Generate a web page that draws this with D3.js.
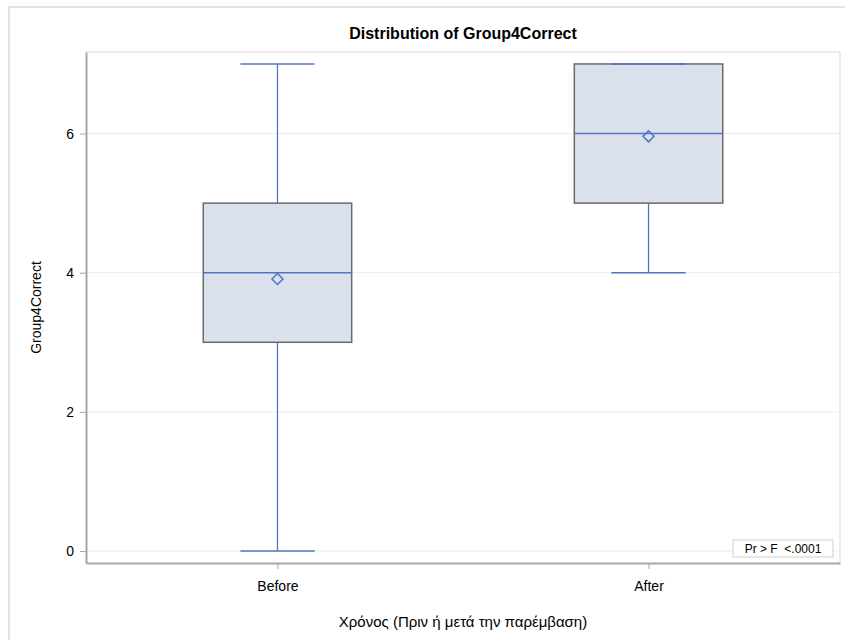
<!DOCTYPE html>
<html>
<head>
<meta charset="utf-8">
<script src="https://cdn.jsdelivr.net/npm/d3@7"></script>
<style>
  body { margin: 0; background: #fff; }
  #chart { width: 845px; height: 640px; }
  text { font-family: "Liberation Sans", Arial, sans-serif; fill: #000; }
</style>
</head>
<body>
<div id="chart"></div>
<script>
// values
const groups = ["Before", "After"];
const minVals = [0, 4];
const q1Vals = [3, 5];
const medianVals = [4, 6];
const q3Vals = [5, 7];
const maxVals = [7, 7];
const meanVals = [3.91, 5.96];
const yTicks = [0, 2, 4, 6];

const width = 845;
const height = 640;
const margin = {top: 52, left: 86, right: 5, bottom: 77};

const data = groups.map(function(g, i) {
    return {name: g, min: minVals[i], q1: q1Vals[i], med: medianVals[i], q3: q3Vals[i], max: maxVals[i], mean: meanVals[i]};
});

const canvas = d3.select("#chart")
    .append("svg")
    .attr("width", width)
    .attr("height", height);

// outer frame
canvas.append("rect")
    .attr("x", 9)
    .attr("y", 7)
    .attr("width", width)
    .attr("height", height)
    .attr("fill", "none")
    .attr("stroke", "#e3e3e3")
    .attr("stroke-width", 2);

const xScale = d3.scalePoint()
    .domain(groups)
    .range([margin.left, width - margin.right])
    .padding(0.516);

const yScale = d3.scaleLinear()
    .domain([-0.172, 7.172])
    .range([height - margin.bottom, margin.top]);

const step = xScale.step();
const boxW = step * 0.4;
const capW = step * 0.2;
const blue = "#5274c2";

// gridlines
canvas.append("g")
    .selectAll("line")
    .data(yTicks)
    .enter()
    .append("line")
        .attr("x1", margin.left)
        .attr("x2", width - margin.right)
        .attr("y1", function(d) { return yScale(d); })
        .attr("y2", function(d) { return yScale(d); })
        .attr("stroke", "#ececec")
        .attr("stroke-width", 1);

const boxes = canvas.selectAll(".box")
    .data(data)
    .enter()
    .append("g")
    .attr("class", "box");

// whiskers
boxes.append("line")
    .attr("x1", function(d) { return xScale(d.name); })
    .attr("x2", function(d) { return xScale(d.name); })
    .attr("y1", function(d) { return yScale(d.min); })
    .attr("y2", function(d) { return yScale(d.q1); })
    .attr("stroke", blue)
    .attr("stroke-width", 1.3);

boxes.append("line")
    .attr("x1", function(d) { return xScale(d.name); })
    .attr("x2", function(d) { return xScale(d.name); })
    .attr("y1", function(d) { return yScale(d.q3); })
    .attr("y2", function(d) { return yScale(d.max); })
    .attr("stroke", blue)
    .attr("stroke-width", 1.3);

boxes.append("rect")
    .attr("x", function(d) { return xScale(d.name) - boxW / 2; })
    .attr("y", function(d) { return yScale(d.q3); })
    .attr("width", boxW)
    .attr("height", function(d) { return yScale(d.q1) - yScale(d.q3); })
    .attr("fill", "#dae1ec")
    .attr("stroke", "#6a6a6a")
    .attr("stroke-width", 1.5);

// caps
boxes.append("line")
    .attr("x1", function(d) { return xScale(d.name) - capW / 2; })
    .attr("x2", function(d) { return xScale(d.name) + capW / 2; })
    .attr("y1", function(d) { return yScale(d.min); })
    .attr("y2", function(d) { return yScale(d.min); })
    .attr("stroke", blue)
    .attr("stroke-width", 1.5);

boxes.append("line")
    .attr("x1", function(d) { return xScale(d.name) - capW / 2; })
    .attr("x2", function(d) { return xScale(d.name) + capW / 2; })
    .attr("y1", function(d) { return yScale(d.max); })
    .attr("y2", function(d) { return yScale(d.max); })
    .attr("stroke", blue)
    .attr("stroke-width", 1.5);

// median
boxes.append("line")
    .attr("x1", function(d) { return xScale(d.name) - boxW / 2; })
    .attr("x2", function(d) { return xScale(d.name) + boxW / 2; })
    .attr("y1", function(d) { return yScale(d.med); })
    .attr("y2", function(d) { return yScale(d.med); })
    .attr("stroke", blue)
    .attr("stroke-width", 1.5);

// mean diamond
boxes.append("path")
    .attr("d", function(d) {
        const cx = xScale(d.name), cy = yScale(d.mean), r = 5.5;
        return `M${cx},${cy - r}L${cx + r},${cy}L${cx},${cy + r}L${cx - r},${cy}Z`;
    })
    .attr("fill", "none")
    .attr("stroke", blue)
    .attr("stroke-width", 1.5);

// axes
const yAxis = canvas.append("g")
    .attr("transform", `translate(${margin.left},0)`)
    .call(d3.axisLeft(yScale).tickValues(yTicks).tickSizeInner(6).tickSizeOuter(0).tickPadding(6));

const xAxis = canvas.append("g")
    .attr("transform", `translate(0,${height - margin.bottom})`)
    .call(d3.axisBottom(xScale).tickSizeInner(6).tickSizeOuter(0).tickPadding(12));

[yAxis, xAxis].forEach(function(ax) {
    ax.select(".domain").attr("stroke", "#a6a6a6").attr("stroke-width", 2);
    ax.selectAll(".tick line").attr("stroke", "#a6a6a6");
    ax.selectAll(".tick text")
        .style("font-family", "'Liberation Sans', Arial, sans-serif")
        .style("font-size", "14px")
        .attr("fill", "#000");
});

// plot frame top and right
canvas.append("path")
    .attr("d", `M${margin.left},${margin.top}H${width - margin.right}V${height - margin.bottom}`)
    .attr("fill", "none")
    .attr("stroke", "#d8d8d8")
    .attr("stroke-width", 1);

// title and labels
canvas.append("text")
    .attr("x", (margin.left + width - margin.right) / 2)
    .attr("y", 39)
    .attr("text-anchor", "middle")
    .style("font-size", "16px")
    .style("font-weight", "bold")
    .text("Distribution of Group4Correct");

canvas.append("text")
    .attr("transform", "rotate(-90)")
    .attr("x", -(margin.top + height - margin.bottom) / 2)
    .attr("y", 41)
    .attr("text-anchor", "middle")
    .style("font-size", "14px")
    .text("Group4Correct");

canvas.append("text")
    .attr("x", (margin.left + width - margin.right) / 2)
    .attr("y", 627)
    .attr("text-anchor", "middle")
    .style("font-size", "15px")
    .text("Χρόνος (Πριν ή μετά την παρέμβαση)");

// inset p-value box
const inset = canvas.append("g");
inset.append("rect")
    .attr("x", 733)
    .attr("y", 540)
    .attr("width", 100)
    .attr("height", 17)
    .attr("fill", "#fff")
    .attr("stroke", "#cfcfcf");
inset.append("text")
    .attr("x", 783)
    .attr("y", 553)
    .attr("text-anchor", "middle")
    .style("font-size", "12px")
    .attr("xml:space", "preserve")
    .text("Pr > F  <.0001");
</script>
</body>
</html>
